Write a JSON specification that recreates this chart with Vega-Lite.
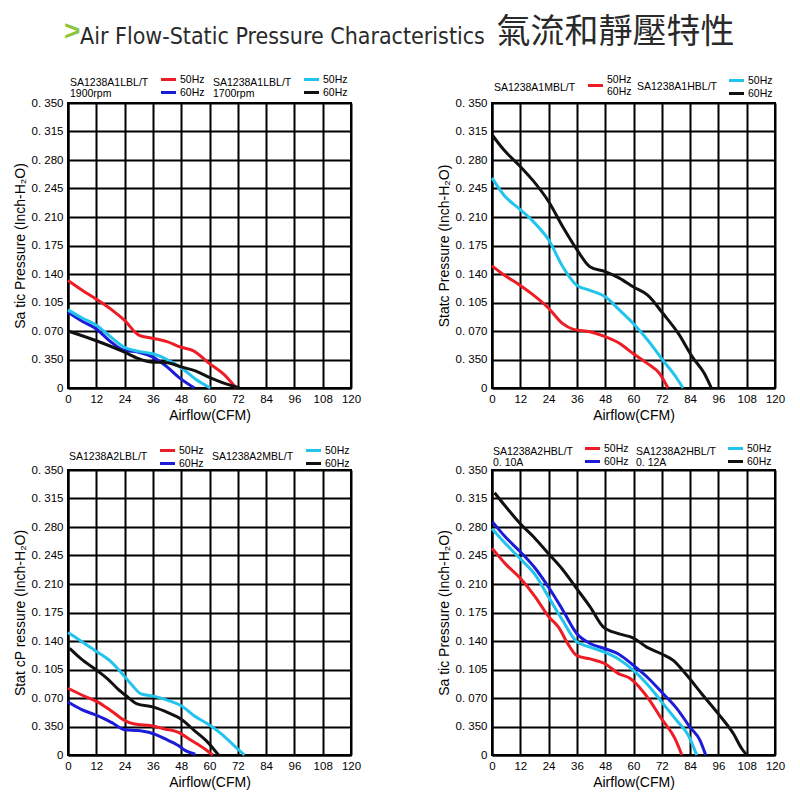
{
  "$schema": "https://vega.github.io/schema/vega-lite/v6.json",
  "background": "white",
  "padding": {"left": 12, "top": 16, "right": 5, "bottom": 5},
  "title": {"text": ">", "color": "#8cc63f", "fontSize": 28, "font": "Liberation Sans", "fontWeight": "bold", "anchor": "start", "frame": "group", "baseline": "alphabetic", "offset": 0, "dx": -4, "dy": 52},
  "config": {
    "view": {"stroke": "black", "strokeWidth": 2},
    "axis": {"domainColor": "black", "domainWidth": 2, "gridColor": "black", "gridWidth": 2, "gridOpacity": 1, "ticks": false, "labelFont": "Liberation Sans", "labelFontSize": 11.5, "labelColor": "black", "titleFont": "Liberation Sans", "titleFontSize": 14, "titleFontWeight": "normal", "titleColor": "black", "labelPadding": 5},
    "legend": {"padding": 0, "symbolType": "M-1.5,0H1.5", "symbolStrokeWidth": 3, "symbolSize": 100, "labelFont": "Liberation Sans", "labelFontSize": 10.5, "labelColor": "black", "labelOffset": 5, "titleFont": "Liberation Sans", "titleFontSize": 10.5, "titleLineHeight": 11, "titleFontWeight": "normal", "titleColor": "black", "titleOrient": "left", "titlePadding": 13, "rowPadding": 0, "titleLimit": 200}
  },
  "data": {"values": [
    {"p":1,"g":"A","s":"50Hz","x":0,"y":0.132},{"p":1,"g":"A","s":"50Hz","x":6,"y":0.120},{"p":1,"g":"A","s":"50Hz","x":12,"y":0.109},{"p":1,"g":"A","s":"50Hz","x":19,"y":0.095},{"p":1,"g":"A","s":"50Hz","x":24,"y":0.083},{"p":1,"g":"A","s":"50Hz","x":30,"y":0.065},{"p":1,"g":"A","s":"50Hz","x":36,"y":0.061},{"p":1,"g":"A","s":"50Hz","x":42,"y":0.057},{"p":1,"g":"A","s":"50Hz","x":48,"y":0.050},{"p":1,"g":"A","s":"50Hz","x":53,"y":0.046},{"p":1,"g":"A","s":"50Hz","x":60,"y":0.030},{"p":1,"g":"A","s":"50Hz","x":66,"y":0.017},{"p":1,"g":"A","s":"50Hz","x":71.3,"y":0},
    {"p":1,"g":"A","s":"60Hz","x":0,"y":0.093},{"p":1,"g":"A","s":"60Hz","x":6,"y":0.082},{"p":1,"g":"A","s":"60Hz","x":12,"y":0.0725},{"p":1,"g":"A","s":"60Hz","x":17.6,"y":0.058},{"p":1,"g":"A","s":"60Hz","x":24,"y":0.046},{"p":1,"g":"A","s":"60Hz","x":30,"y":0.044},{"p":1,"g":"A","s":"60Hz","x":36,"y":0.038},{"p":1,"g":"A","s":"60Hz","x":42,"y":0.026},{"p":1,"g":"A","s":"60Hz","x":47,"y":0.013},{"p":1,"g":"A","s":"60Hz","x":53.6,"y":0},
    {"p":1,"g":"B","s":"50Hz","x":0,"y":0.096},{"p":1,"g":"B","s":"50Hz","x":6,"y":0.086},{"p":1,"g":"B","s":"50Hz","x":12,"y":0.077},{"p":1,"g":"B","s":"50Hz","x":17.6,"y":0.064},{"p":1,"g":"B","s":"50Hz","x":24,"y":0.050},{"p":1,"g":"B","s":"50Hz","x":30,"y":0.045},{"p":1,"g":"B","s":"50Hz","x":36,"y":0.042},{"p":1,"g":"B","s":"50Hz","x":42,"y":0.035},{"p":1,"g":"B","s":"50Hz","x":48,"y":0.025},{"p":1,"g":"B","s":"50Hz","x":54,"y":0.011},{"p":1,"g":"B","s":"50Hz","x":60.3,"y":0},
    {"p":1,"g":"B","s":"60Hz","x":0,"y":0.070},{"p":1,"g":"B","s":"60Hz","x":12,"y":0.058},{"p":1,"g":"B","s":"60Hz","x":24,"y":0.044},{"p":1,"g":"B","s":"60Hz","x":30,"y":0.036},{"p":1,"g":"B","s":"60Hz","x":35,"y":0.032},{"p":1,"g":"B","s":"60Hz","x":42,"y":0.031},{"p":1,"g":"B","s":"60Hz","x":48,"y":0.026},{"p":1,"g":"B","s":"60Hz","x":54,"y":0.021},{"p":1,"g":"B","s":"60Hz","x":60,"y":0.013},{"p":1,"g":"B","s":"60Hz","x":67,"y":0.005},{"p":1,"g":"B","s":"60Hz","x":72.7,"y":0},

    {"p":2,"g":"A","s":"50Hz","x":0,"y":0.150},{"p":2,"g":"A","s":"50Hz","x":5,"y":0.139},{"p":2,"g":"A","s":"50Hz","x":12,"y":0.126},{"p":2,"g":"A","s":"50Hz","x":17.6,"y":0.114},{"p":2,"g":"A","s":"50Hz","x":24,"y":0.098},{"p":2,"g":"A","s":"50Hz","x":30,"y":0.079},{"p":2,"g":"A","s":"50Hz","x":34.5,"y":0.072},{"p":2,"g":"A","s":"50Hz","x":41.5,"y":0.069},{"p":2,"g":"A","s":"50Hz","x":48,"y":0.063},{"p":2,"g":"A","s":"50Hz","x":54,"y":0.055},{"p":2,"g":"A","s":"50Hz","x":60,"y":0.042},{"p":2,"g":"A","s":"50Hz","x":66,"y":0.030},{"p":2,"g":"A","s":"50Hz","x":71,"y":0.018},{"p":2,"g":"A","s":"50Hz","x":74.6,"y":0},
    {"p":2,"g":"B","s":"50Hz","x":0,"y":0.258},{"p":2,"g":"B","s":"50Hz","x":5,"y":0.237},{"p":2,"g":"B","s":"50Hz","x":12,"y":0.219},{"p":2,"g":"B","s":"50Hz","x":17.6,"y":0.204},{"p":2,"g":"B","s":"50Hz","x":24,"y":0.182},{"p":2,"g":"B","s":"50Hz","x":30,"y":0.149},{"p":2,"g":"B","s":"50Hz","x":36,"y":0.126},{"p":2,"g":"B","s":"50Hz","x":41.5,"y":0.120},{"p":2,"g":"B","s":"50Hz","x":48,"y":0.112},{"p":2,"g":"B","s":"50Hz","x":54,"y":0.096},{"p":2,"g":"B","s":"50Hz","x":60,"y":0.079},{"p":2,"g":"B","s":"50Hz","x":66,"y":0.059},{"p":2,"g":"B","s":"50Hz","x":72.5,"y":0.034},{"p":2,"g":"B","s":"50Hz","x":78,"y":0.0135},{"p":2,"g":"B","s":"50Hz","x":81,"y":0},
    {"p":2,"g":"B","s":"60Hz","x":0,"y":0.311},{"p":2,"g":"B","s":"60Hz","x":5,"y":0.2925},{"p":2,"g":"B","s":"60Hz","x":12,"y":0.272},{"p":2,"g":"B","s":"60Hz","x":17.6,"y":0.254},{"p":2,"g":"B","s":"60Hz","x":24,"y":0.229},{"p":2,"g":"B","s":"60Hz","x":30,"y":0.198},{"p":2,"g":"B","s":"60Hz","x":36,"y":0.170},{"p":2,"g":"B","s":"60Hz","x":41.5,"y":0.149},{"p":2,"g":"B","s":"60Hz","x":48,"y":0.143},{"p":2,"g":"B","s":"60Hz","x":54,"y":0.135},{"p":2,"g":"B","s":"60Hz","x":60,"y":0.124},{"p":2,"g":"B","s":"60Hz","x":66,"y":0.114},{"p":2,"g":"B","s":"60Hz","x":72.5,"y":0.0915},{"p":2,"g":"B","s":"60Hz","x":79,"y":0.067},{"p":2,"g":"B","s":"60Hz","x":85,"y":0.038},{"p":2,"g":"B","s":"60Hz","x":90,"y":0.018},{"p":2,"g":"B","s":"60Hz","x":93,"y":0},

    {"p":3,"g":"A","s":"50Hz","x":0,"y":0.082},{"p":3,"g":"A","s":"50Hz","x":5.6,"y":0.074},{"p":3,"g":"A","s":"50Hz","x":12.7,"y":0.065},{"p":3,"g":"A","s":"50Hz","x":18.4,"y":0.054},{"p":3,"g":"A","s":"50Hz","x":24.3,"y":0.042},{"p":3,"g":"A","s":"50Hz","x":28.2,"y":0.038},{"p":3,"g":"A","s":"50Hz","x":35.3,"y":0.036},{"p":3,"g":"A","s":"50Hz","x":41,"y":0.032},{"p":3,"g":"A","s":"50Hz","x":46.6,"y":0.028},{"p":3,"g":"A","s":"50Hz","x":52.2,"y":0.018},{"p":3,"g":"A","s":"50Hz","x":58,"y":0.0074},{"p":3,"g":"A","s":"50Hz","x":61.4,"y":0},
    {"p":3,"g":"A","s":"60Hz","x":0,"y":0.065},{"p":3,"g":"A","s":"60Hz","x":5.6,"y":0.056},{"p":3,"g":"A","s":"60Hz","x":12.7,"y":0.048},{"p":3,"g":"A","s":"60Hz","x":18.4,"y":0.040},{"p":3,"g":"A","s":"60Hz","x":24.3,"y":0.031},{"p":3,"g":"A","s":"60Hz","x":29.6,"y":0.030},{"p":3,"g":"A","s":"60Hz","x":35.3,"y":0.027},{"p":3,"g":"A","s":"60Hz","x":41,"y":0.020},{"p":3,"g":"A","s":"60Hz","x":46.6,"y":0.012},{"p":3,"g":"A","s":"60Hz","x":50,"y":0.005},{"p":3,"g":"A","s":"60Hz","x":54,"y":0.001},
    {"p":3,"g":"B","s":"50Hz","x":0,"y":0.1505},{"p":3,"g":"B","s":"50Hz","x":7,"y":0.137},{"p":3,"g":"B","s":"50Hz","x":12.7,"y":0.126},{"p":3,"g":"B","s":"50Hz","x":18.4,"y":0.114},{"p":3,"g":"B","s":"50Hz","x":22.6,"y":0.101},{"p":3,"g":"B","s":"50Hz","x":26.8,"y":0.087},{"p":3,"g":"B","s":"50Hz","x":31,"y":0.075},{"p":3,"g":"B","s":"50Hz","x":36.7,"y":0.072},{"p":3,"g":"B","s":"50Hz","x":42.4,"y":0.067},{"p":3,"g":"B","s":"50Hz","x":48,"y":0.0605},{"p":3,"g":"B","s":"50Hz","x":53.6,"y":0.048},{"p":3,"g":"B","s":"50Hz","x":59.3,"y":0.038},{"p":3,"g":"B","s":"50Hz","x":65,"y":0.026},{"p":3,"g":"B","s":"50Hz","x":70.6,"y":0.011},{"p":3,"g":"B","s":"50Hz","x":74.8,"y":0},
    {"p":3,"g":"B","s":"60Hz","x":0.7,"y":0.131},{"p":3,"g":"B","s":"60Hz","x":5.6,"y":0.118},{"p":3,"g":"B","s":"60Hz","x":12.7,"y":0.103},{"p":3,"g":"B","s":"60Hz","x":17,"y":0.093},{"p":3,"g":"B","s":"60Hz","x":21.2,"y":0.081},{"p":3,"g":"B","s":"60Hz","x":25.4,"y":0.071},{"p":3,"g":"B","s":"60Hz","x":29,"y":0.063},{"p":3,"g":"B","s":"60Hz","x":36.7,"y":0.0585},{"p":3,"g":"B","s":"60Hz","x":42.4,"y":0.052},{"p":3,"g":"B","s":"60Hz","x":48,"y":0.044},{"p":3,"g":"B","s":"60Hz","x":53.6,"y":0.030},{"p":3,"g":"B","s":"60Hz","x":59.3,"y":0.0155},{"p":3,"g":"B","s":"60Hz","x":62,"y":0.0065},{"p":3,"g":"B","s":"60Hz","x":63.8,"y":0},

    {"p":4,"g":"A","s":"50Hz","x":0,"y":0.254},{"p":4,"g":"A","s":"50Hz","x":5.6,"y":0.235},{"p":4,"g":"A","s":"50Hz","x":12,"y":0.217},{"p":4,"g":"A","s":"50Hz","x":18.4,"y":0.194},{"p":4,"g":"A","s":"50Hz","x":24,"y":0.170},{"p":4,"g":"A","s":"50Hz","x":28.2,"y":0.157},{"p":4,"g":"A","s":"50Hz","x":32.5,"y":0.135},{"p":4,"g":"A","s":"50Hz","x":36,"y":0.122},{"p":4,"g":"A","s":"50Hz","x":41.6,"y":0.118},{"p":4,"g":"A","s":"50Hz","x":48,"y":0.112},{"p":4,"g":"A","s":"50Hz","x":53.6,"y":0.100},{"p":4,"g":"A","s":"50Hz","x":58.6,"y":0.094},{"p":4,"g":"A","s":"50Hz","x":66.4,"y":0.069},{"p":4,"g":"A","s":"50Hz","x":72,"y":0.044},{"p":4,"g":"A","s":"50Hz","x":77.6,"y":0.020},{"p":4,"g":"A","s":"50Hz","x":80.5,"y":0},
    {"p":4,"g":"A","s":"60Hz","x":0.3,"y":0.286},{"p":4,"g":"A","s":"60Hz","x":5.6,"y":0.268},{"p":4,"g":"A","s":"60Hz","x":12,"y":0.2495},{"p":4,"g":"A","s":"60Hz","x":18.4,"y":0.229},{"p":4,"g":"A","s":"60Hz","x":24,"y":0.206},{"p":4,"g":"A","s":"60Hz","x":29.6,"y":0.180},{"p":4,"g":"A","s":"60Hz","x":36,"y":0.149},{"p":4,"g":"A","s":"60Hz","x":41.6,"y":0.137},{"p":4,"g":"A","s":"60Hz","x":48,"y":0.1305},{"p":4,"g":"A","s":"60Hz","x":53.6,"y":0.124},{"p":4,"g":"A","s":"60Hz","x":60,"y":0.110},{"p":4,"g":"A","s":"60Hz","x":66.4,"y":0.094},{"p":4,"g":"A","s":"60Hz","x":72,"y":0.077},{"p":4,"g":"A","s":"60Hz","x":78.4,"y":0.057},{"p":4,"g":"A","s":"60Hz","x":84,"y":0.034},{"p":4,"g":"A","s":"60Hz","x":88.2,"y":0.018},{"p":4,"g":"A","s":"60Hz","x":90.6,"y":0},
    {"p":4,"g":"B","s":"50Hz","x":0,"y":0.278},{"p":4,"g":"B","s":"50Hz","x":5.6,"y":0.260},{"p":4,"g":"B","s":"50Hz","x":12,"y":0.241},{"p":4,"g":"B","s":"50Hz","x":18.4,"y":0.221},{"p":4,"g":"B","s":"50Hz","x":24,"y":0.194},{"p":4,"g":"B","s":"50Hz","x":29.6,"y":0.167},{"p":4,"g":"B","s":"50Hz","x":36,"y":0.139},{"p":4,"g":"B","s":"50Hz","x":41.6,"y":0.1325},{"p":4,"g":"B","s":"50Hz","x":48,"y":0.126},{"p":4,"g":"B","s":"50Hz","x":53.6,"y":0.118},{"p":4,"g":"B","s":"50Hz","x":60,"y":0.104},{"p":4,"g":"B","s":"50Hz","x":66.4,"y":0.085},{"p":4,"g":"B","s":"50Hz","x":72,"y":0.065},{"p":4,"g":"B","s":"50Hz","x":78.4,"y":0.042},{"p":4,"g":"B","s":"50Hz","x":83.3,"y":0.024},{"p":4,"g":"B","s":"50Hz","x":86.8,"y":0},
    {"p":4,"g":"B","s":"60Hz","x":1.1,"y":0.322},{"p":4,"g":"B","s":"60Hz","x":6.4,"y":0.303},{"p":4,"g":"B","s":"60Hz","x":12,"y":0.284},{"p":4,"g":"B","s":"60Hz","x":17.6,"y":0.268},{"p":4,"g":"B","s":"60Hz","x":24,"y":0.247},{"p":4,"g":"B","s":"60Hz","x":29.6,"y":0.229},{"p":4,"g":"B","s":"60Hz","x":36,"y":0.204},{"p":4,"g":"B","s":"60Hz","x":41.6,"y":0.182},{"p":4,"g":"B","s":"60Hz","x":47.3,"y":0.157},{"p":4,"g":"B","s":"60Hz","x":53.6,"y":0.149},{"p":4,"g":"B","s":"60Hz","x":60,"y":0.1436},{"p":4,"g":"B","s":"60Hz","x":65.6,"y":0.1325},{"p":4,"g":"B","s":"60Hz","x":72,"y":0.124},{"p":4,"g":"B","s":"60Hz","x":77,"y":0.116},{"p":4,"g":"B","s":"60Hz","x":82,"y":0.100},{"p":4,"g":"B","s":"60Hz","x":89,"y":0.075},{"p":4,"g":"B","s":"60Hz","x":96,"y":0.0505},{"p":4,"g":"B","s":"60Hz","x":102.4,"y":0.026},{"p":4,"g":"B","s":"60Hz","x":106,"y":0.0074},{"p":4,"g":"B","s":"60Hz","x":108,"y":0}
  ]},
  "vconcat": [
    {
      "title": {"text": "Air Flow-Static Pressure Characteristics", "subtitle": "\u200b\u3000\u3000\u3000\u3000\u3000\u3000\u3000\u3000\u3000\u3000\u3000\u3000\u2005氣流和靜壓特性", "font": "DejaVu Sans Condensed", "fontSize": 23, "fontWeight": "normal", "color": "#2a2a2a", "subtitleFont": "Noto Sans CJK TC", "subtitleFontSize": 34, "subtitleFontWeight": "normal", "subtitleColor": "#2a2a2a", "subtitlePadding": -33, "anchor": "start", "frame": "group", "offset": 12, "dx": 12},
      "columns": 2,
      "spacing": {"row": 82, "column": 141},
      "bounds": "flush",
      "concat": [
        {
          "width": 283, "height": 285,
          "encoding": {
            "x": {"field": "x", "type": "quantitative", "scale": {"domain": [0, 120]}, "axis": {"values": [0,12,24,36,48,60,72,84,96,108,120], "title": "Airflow(CFM)", "labelFlush": false}},
            "y": {"field": "y", "type": "quantitative", "scale": {"domain": [0, 0.35]}, "axis": {"values": [0,0.035,0.07,0.105,0.14,0.175,0.21,0.245,0.28,0.315,0.35], "title": "Sa tic Pressure (Inch-H₂O)", "labelExpr": "datum.value == 0 ? '0' : (datum.value < 0.05 ? '0. 350' : '0. ' + substring(format(datum.value, '.3f'), 2))"}}
          },
          "layer": [
            {"transform": [{"filter": "datum.p == 1 && datum.g == 'A'"}], "mark": {"type": "line", "strokeWidth": 3, "interpolate": "monotone"},
             "encoding": {"color": {"field": "s", "type": "nominal", "scale": {"domain": ["50Hz","60Hz"], "range": ["#ee1c24","#1c1cd8"]}, "legend": {"title": ["SA1238A1LBL/T","1900rpm"], "titleAnchor": "end", "orient": "none", "legendX": 2, "legendY": -30}}}},
            {"transform": [{"filter": "datum.p == 1 && datum.g == 'B'"}], "mark": {"type": "line", "strokeWidth": 3, "interpolate": "monotone"},
             "encoding": {"color": {"field": "s", "type": "nominal", "scale": {"domain": ["50Hz","60Hz"], "range": ["#22c4ee","#111111"]}, "legend": {"title": ["SA1238A1LBL/T","1700rpm"], "titleAnchor": "end", "orient": "none", "legendX": 145, "legendY": -30}}}}
          ],
          "resolve": {"scale": {"color": "independent"}}
        },
        {
          "width": 283, "height": 285,
          "encoding": {
            "x": {"field": "x", "type": "quantitative", "scale": {"domain": [0, 120]}, "axis": {"values": [0,12,24,36,48,60,72,84,96,108,120], "title": "Airflow(CFM)", "labelFlush": false}},
            "y": {"field": "y", "type": "quantitative", "scale": {"domain": [0, 0.35]}, "axis": {"values": [0,0.035,0.07,0.105,0.14,0.175,0.21,0.245,0.28,0.315,0.35], "title": "Statc  Pressure (Inch-H₂O)", "labelExpr": "datum.value == 0 ? '0' : (datum.value < 0.05 ? '0. 350' : '0. ' + substring(format(datum.value, '.3f'), 2))"}}
          },
          "layer": [
            {"transform": [{"filter": "datum.p == 2 && datum.g == 'A'"}], "mark": {"type": "line", "strokeWidth": 3, "interpolate": "monotone"},
             "encoding": {"color": {"field": "s", "type": "nominal", "scale": {"domain": ["50Hz"], "range": ["#ee1c24"]}, "legend": {"title": "SA1238A1MBL/T", "titleAnchor": "middle", "orient": "none", "legendX": 2, "legendY": -24, "labelExpr": "['50Hz', '60Hz']", "encode": {"labels": {"update": {"dy": {"value": -6}}}}}}}},
            {"transform": [{"filter": "datum.p == 2 && datum.g == 'B'"}], "mark": {"type": "line", "strokeWidth": 3, "interpolate": "monotone"},
             "encoding": {"color": {"field": "s", "type": "nominal", "scale": {"domain": ["50Hz","60Hz"], "range": ["#22c4ee","#111111"]}, "legend": {"title": "SA1238A1HBL/T", "titleAnchor": "middle", "orient": "none", "legendX": 145, "legendY": -29}}}}
          ],
          "resolve": {"scale": {"color": "independent"}}
        },
        {
          "width": 283, "height": 285,
          "encoding": {
            "x": {"field": "x", "type": "quantitative", "scale": {"domain": [0, 120]}, "axis": {"values": [0,12,24,36,48,60,72,84,96,108,120], "title": "Airflow(CFM)", "labelFlush": false}},
            "y": {"field": "y", "type": "quantitative", "scale": {"domain": [0, 0.35]}, "axis": {"values": [0,0.035,0.07,0.105,0.14,0.175,0.21,0.245,0.28,0.315,0.35], "title": "Stat cP ressure (Inch-H₂O)", "labelExpr": "datum.value == 0 ? '0' : (datum.value < 0.05 ? '0. 350' : '0. ' + substring(format(datum.value, '.3f'), 2))"}}
          },
          "layer": [
            {"transform": [{"filter": "datum.p == 3 && datum.g == 'A'"}], "mark": {"type": "line", "strokeWidth": 3, "interpolate": "monotone"},
             "encoding": {"color": {"field": "s", "type": "nominal", "scale": {"domain": ["50Hz","60Hz"], "range": ["#ee1c24","#1c1cd8"]}, "legend": {"title": "SA1238A2LBL/T", "titleAnchor": "middle", "orient": "none", "legendX": 1, "legendY": -26}}}},
            {"transform": [{"filter": "datum.p == 3 && datum.g == 'B'"}], "mark": {"type": "line", "strokeWidth": 3, "interpolate": "monotone"},
             "encoding": {"color": {"field": "s", "type": "nominal", "scale": {"domain": ["50Hz","60Hz"], "range": ["#22c4ee","#111111"]}, "legend": {"title": "SA1238A2MBL/T", "titleAnchor": "middle", "orient": "none", "legendX": 144, "legendY": -26}}}}
          ],
          "resolve": {"scale": {"color": "independent"}}
        },
        {
          "width": 283, "height": 285,
          "encoding": {
            "x": {"field": "x", "type": "quantitative", "scale": {"domain": [0, 120]}, "axis": {"values": [0,12,24,36,48,60,72,84,96,108,120], "title": "Airflow(CFM)", "labelFlush": false}},
            "y": {"field": "y", "type": "quantitative", "scale": {"domain": [0, 0.35]}, "axis": {"values": [0,0.035,0.07,0.105,0.14,0.175,0.21,0.245,0.28,0.315,0.35], "title": "Sa tic  Pressure (Inch-H₂O)", "labelExpr": "datum.value == 0 ? '0' : (datum.value < 0.05 ? '0. 350' : '0. ' + substring(format(datum.value, '.3f'), 2))"}}
          },
          "layer": [
            {"transform": [{"filter": "datum.p == 4 && datum.g == 'A'"}], "mark": {"type": "line", "strokeWidth": 3, "interpolate": "monotone"},
             "encoding": {"color": {"field": "s", "type": "nominal", "scale": {"domain": ["50Hz","60Hz"], "range": ["#ee1c24","#1c1cd8"]}, "legend": {"title": ["SA1238A2HBL/T","0. 10A"], "titleAnchor": "end", "orient": "none", "legendX": 1, "legendY": -28}}}},
            {"transform": [{"filter": "datum.p == 4 && datum.g == 'B'"}], "mark": {"type": "line", "strokeWidth": 3, "interpolate": "monotone"},
             "encoding": {"color": {"field": "s", "type": "nominal", "scale": {"domain": ["50Hz","60Hz"], "range": ["#22c4ee","#111111"]}, "legend": {"title": ["SA1238A2HBL/T","0. 12A"], "titleAnchor": "end", "orient": "none", "legendX": 144, "legendY": -28}}}}
          ],
          "resolve": {"scale": {"color": "independent"}}
        }
      ]
    }
  ]
}
